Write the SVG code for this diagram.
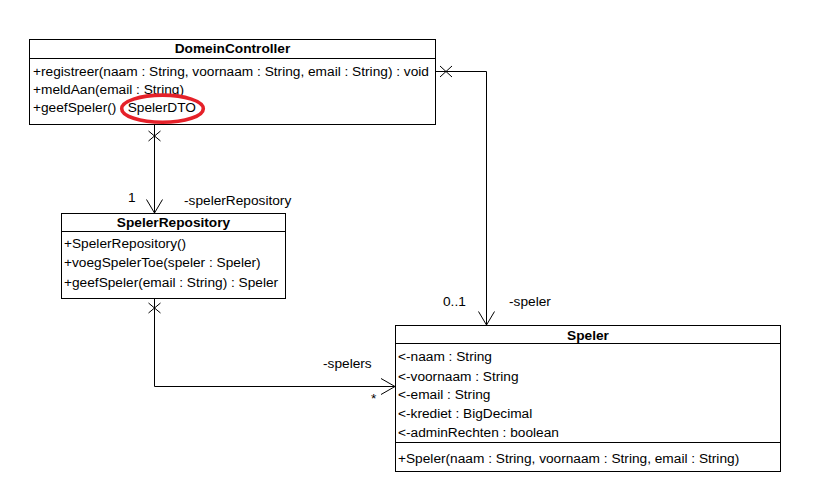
<svg xmlns="http://www.w3.org/2000/svg" width="814" height="500" viewBox="0 0 814 500">
<style>
  .box { fill: #ffffff; stroke: #000000; stroke-width: 1; }
  .div { stroke: #000000; stroke-width: 1; }
  text { font-family: "Liberation Sans", Arial, sans-serif; font-size: 13.7px; fill: #000000; }
  .title { font-weight: bold; text-anchor: middle; }
  .conn { fill: none; stroke: #000000; stroke-width: 1; }
  .mark { fill: none; stroke: #000000; stroke-width: 1; }
</style>
<rect width="814" height="500" fill="#ffffff"/>
<g id="connectors">
  <path class="conn" d="M154.5,124.5 L154.5,213.5"/>
  <path class="mark" d="M148.5,131 L160.5,141 M160.5,131 L148.5,141"/>
  <path class="mark" d="M146.5,199.5 L154.5,213 L162.5,199.5"/>

  <path class="conn" d="M435.5,71.5 L486.5,71.5 L486.5,325.5"/>
  <path class="mark" d="M440,66 L452,77 M452,66 L440,77"/>
  <path class="mark" d="M478.5,311.5 L486.5,325 L494.5,311.5"/>

  <path class="conn" d="M154.5,298.5 L154.5,386.5 L395.5,386.5"/>
  <path class="mark" d="M148.5,303 L160.5,313 M160.5,303 L148.5,313"/>
  <path class="mark" d="M381,378.5 L395,386.5 L381,394.5"/>

  <text x="128" y="202">1</text>
  <text x="184" y="205">-spelerRepository</text>
  <text x="443" y="306">0..1</text>
  <text x="509" y="306">-speler</text>
  <text x="323" y="368">-spelers</text>
  <text x="371" y="403">*</text>
</g>
<g id="DomeinController">
  <rect class="box" x="29.5" y="39.5" width="406" height="85"/>
  <line class="div" x1="29.5" y1="58.5" x2="435.5" y2="58.5"/>
  <text class="title" x="232.5" y="53">DomeinController</text>
  <text x="33" y="76">+registreer(naam : String, voornaam : String, email : String) : void</text>
  <text x="33" y="94">+meldAan(email : String)</text>
  <text x="33" y="112">+geefSpeler() : SpelerDTO</text>
  <ellipse cx="162.5" cy="108.7" rx="40.8" ry="13.6" fill="none" stroke="#e52129" stroke-width="3.6"/>
</g>
<g id="SpelerRepository">
  <rect class="box" x="61.5" y="213.5" width="224" height="85"/>
  <line class="div" x1="61.5" y1="231.5" x2="285.5" y2="231.5"/>
  <text class="title" x="173.5" y="227">SpelerRepository</text>
  <text x="64" y="248">+SpelerRepository()</text>
  <text x="64" y="267">+voegSpelerToe(speler : Speler)</text>
  <text x="64" y="286.5">+geefSpeler(email : String) : Speler</text>
</g>
<g id="Speler">
  <rect class="box" x="395.5" y="325.5" width="385" height="146"/>
  <line class="div" x1="395.5" y1="343.5" x2="780.5" y2="343.5"/>
  <line class="div" x1="395.5" y1="442.5" x2="780.5" y2="442.5"/>
  <text class="title" x="588" y="340">Speler</text>
  <text x="398" y="361">&lt;-naam : String</text>
  <text x="398" y="380.5">&lt;-voornaam : String</text>
  <text x="398" y="399">&lt;-email : String</text>
  <text x="398" y="418">&lt;-krediet : BigDecimal</text>
  <text x="398" y="437">&lt;-adminRechten : boolean</text>
  <text x="398" y="462.5">+Speler(naam : String, voornaam : String, email : String)</text>
</g>
</svg>
